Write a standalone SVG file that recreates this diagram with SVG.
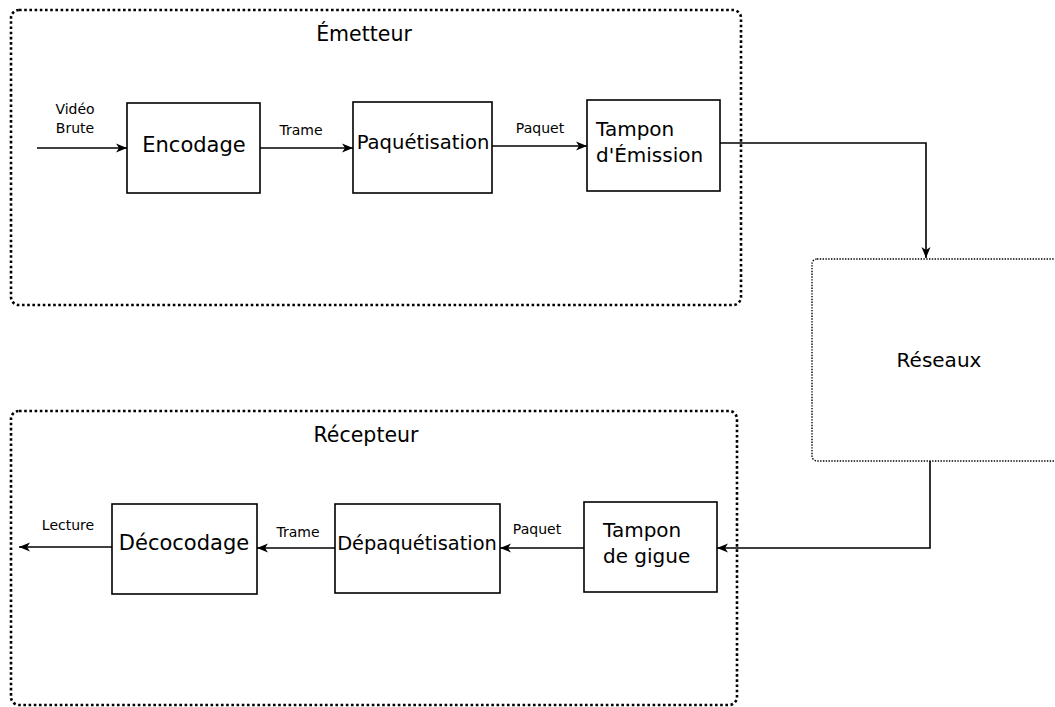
<svg xmlns="http://www.w3.org/2000/svg" width="1055" height="707" viewBox="0 0 1055 707">
<style>
text{font-family:"DejaVu Sans","Liberation Sans",sans-serif;fill:#000}
.box{fill:#fff;stroke:#000;stroke-width:1.6}
.grp{fill:none;stroke:#000;stroke-width:2.6;stroke-dasharray:2.6,2.6}
.net{fill:#fff;stroke:#000;stroke-width:1.4;stroke-dasharray:1.4,1.4}
.big{font-size:20px}
.title{font-size:20.5px}
.small{font-size:14px}
.c{fill:none;stroke:#000;stroke-width:1.6}
</style>
<defs>
<marker id="arr" markerWidth="14" markerHeight="12" viewBox="-13 -6 14 12" refX="0" refY="0" orient="auto" markerUnits="userSpaceOnUse">
<path d="M0,0 L-11,-4.5 L-8,0 L-11,4.5 Z" fill="#000"/>
</marker>
</defs>
<rect width="1055" height="707" fill="#fff"/>
<g id="emetteur">
<rect class="grp" x="11" y="10" width="730" height="295" rx="8"/>
<text class="title" x="364" y="41" text-anchor="middle">Émetteur</text>
</g>
<g id="recepteur">
<rect class="grp" x="11" y="411" width="726" height="294" rx="8"/>
<text class="title" x="366" y="442" text-anchor="middle">Récepteur</text>
</g>
<g id="reseaux">
<rect class="net" x="812" y="259" width="260" height="202" rx="5"/>
<text class="big" x="939" y="367" text-anchor="middle">Réseaux</text>
</g>
<g id="encodage">
<rect class="box" x="127" y="103" width="133" height="90"/>
<text x="194" y="152" font-size="21" text-anchor="middle">Encodage</text>
</g>
<g id="paquetisation">
<rect class="box" x="353" y="102" width="139" height="91"/>
<text x="423" y="149" font-size="19.6" text-anchor="middle">Paquétisation</text>
</g>
<g id="tampon-emission">
<rect class="box" x="587" y="100" width="133" height="91"/>
<text class="big" x="596" y="136">Tampon</text>
<text class="big" x="596" y="162">d'Émission</text>
</g>
<g id="decocodage">
<rect class="box" x="112" y="504" width="145" height="90"/>
<text x="184" y="550" font-size="21" text-anchor="middle">Décocodage</text>
</g>
<g id="depaquetisation">
<rect class="box" x="335" y="504" width="165" height="89"/>
<text x="417" y="550" font-size="19.4" text-anchor="middle">Dépaquétisation</text>
</g>
<g id="tampon-gigue">
<rect class="box" x="584" y="502" width="133" height="90"/>
<text class="big" x="603" y="537">Tampon</text>
<text class="big" x="603" y="563">de gigue</text>
</g>
<g id="connectors">
<path class="c" d="M37,148 H127" marker-end="url(#arr)"/>
<path class="c" d="M260,148 H353" marker-end="url(#arr)"/>
<path class="c" d="M492,146 H587" marker-end="url(#arr)"/>
<path class="c" d="M720,143 H926 V258" marker-end="url(#arr)"/>
<path class="c" d="M930,461 V548 H717" marker-end="url(#arr)"/>
<path class="c" d="M584,548 H500" marker-end="url(#arr)"/>
<path class="c" d="M335,548 H257" marker-end="url(#arr)"/>
<path class="c" d="M112,547 H19" marker-end="url(#arr)"/>
<text class="small" x="75" y="114" text-anchor="middle">Vidéo</text>
<text class="small" x="75" y="133" text-anchor="middle">Brute</text>
<text class="small" x="301" y="135" text-anchor="middle">Trame</text>
<text class="small" x="540" y="133" text-anchor="middle">Paquet</text>
<text class="small" x="537" y="534" text-anchor="middle">Paquet</text>
<text class="small" x="298" y="537" text-anchor="middle">Trame</text>
<text class="small" x="68" y="530" text-anchor="middle">Lecture</text>
</g>
</svg>
